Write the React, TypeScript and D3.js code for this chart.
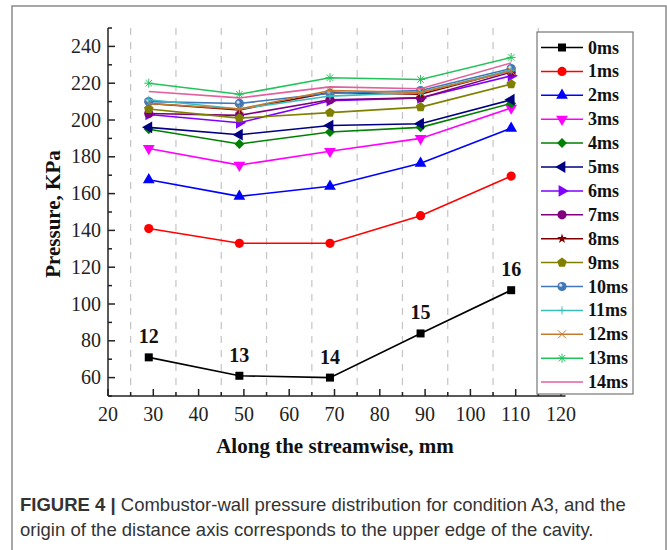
import React from 'react';
import * as d3 from 'd3';

// positions along the wall, mm
const positions = [29, 49, 69, 89, 109];
const pointLabels = ['12', '13', '14', '15', '16'];
const xTicks = [20, 30, 40, 50, 60, 70, 80, 90, 100, 110, 120];
const yTicks = [60, 80, 100, 120, 140, 160, 180, 200, 220, 240];

const seriesNames = ['0ms', '1ms', '2ms', '3ms', '4ms', '5ms', '6ms', '7ms', '8ms', '9ms', '10ms', '11ms', '12ms', '13ms', '14ms'];
const s0 = [71, 61, 60, 84, 107.5];
const s1 = [141, 133, 133, 148, 169.5];
const s2 = [167.5, 158.5, 164, 176.5, 195.5];
const s3 = [184.5, 175.5, 183, 190, 206.5];
const s4 = [195, 187, 193.5, 196, 209];
const s5 = [196, 192, 197, 198, 211];
const s6 = [203, 198.5, 210.5, 212, 224];
const s7 = [203.5, 202.5, 211, 212, 226];
const s8 = [209, 205.5, 215, 214, 227];
const s9 = [206, 201, 204, 207, 219.5];
const s10 = [210, 209, 214.5, 216, 228];
const s11 = [211, 206, 213, 215, 227];
const s12 = [209, 206, 216, 215, 226.5];
const s13 = [220, 214, 223, 222, 234];
const s14 = [215.5, 212, 218, 217, 231];
const seriesValues = [s0, s1, s2, s3, s4, s5, s6, s7, s8, s9, s10, s11, s12, s13, s14];

const colors = ['#000000', '#ff0000', '#0000ff', '#ff00ff', '#008000', '#000080', '#8000ff', '#800080',
  '#800000', '#808000', '#3f77b8', '#3cbcbc', '#c47a2c', '#22c45a', '#e2609e'];
const markers = ['square', 'circle', 'up', 'down', 'diamond', 'left', 'right', 'circle', 'star', 'pentagon',
  'ball', 'plus', 'times', 'asterisk', 'none'];

const W = 667, H = 550;
const serif = '"Liberation Serif", "Times New Roman", serif';
const captionFont = '"Liberation Sans Narrow", "Arial Narrow", "Liberation Sans", sans-serif';

const x = d3.scaleLinear().domain([20, 120]).range([108, 561]);
const y = d3.scaleLinear().domain([50, 250]).range([396, 28]);

const polygon = (n, r, rot = -Math.PI / 2) => {
  const p = d3.path();
  for (let i = 0; i < n; i++) {
    const a = rot + (i * 2 * Math.PI) / n;
    if (i === 0) p.moveTo(r * Math.cos(a), r * Math.sin(a));
    else p.lineTo(r * Math.cos(a), r * Math.sin(a));
  }
  p.closePath();
  return p.toString();
};

const Marker = ({ type, color, cx, cy }) => {
  const t = `translate(${cx},${cy})`;
  const tri = d3.symbol(d3.symbolTriangle, 60)();
  switch (type) {
    case 'square':
      return <rect x={cx - 4} y={cy - 4} width={8} height={8} fill={color} />;
    case 'circle':
      return <circle cx={cx} cy={cy} r={4.6} fill={color} />;
    case 'ball':
      return <g><circle cx={cx} cy={cy} r={4.6} fill={color} /><circle cx={cx - 1.3} cy={cy - 1.3} r={1.6} fill="#cfe0f3" /></g>;
    case 'up':
      return <path d={tri} transform={t} fill={color} />;
    case 'down':
      return <path d={tri} transform={`${t} rotate(180)`} fill={color} />;
    case 'left':
      return <path d={tri} transform={`${t} rotate(-90)`} fill={color} />;
    case 'right':
      return <path d={tri} transform={`${t} rotate(90)`} fill={color} />;
    case 'diamond':
      return <path d={polygon(4, 5)} transform={t} fill={color} />;
    case 'pentagon':
      return <path d={polygon(5, 5)} transform={t} fill={color} />;
    case 'star':
      return <path d={d3.symbol(d3.symbolStar, 30)()} transform={t} fill={color} />;
    case 'plus':
      return <path d="M-4,0H4M0,-4V4" transform={t} stroke={color} strokeWidth={1} />;
    case 'times':
      return <path d="M-4,-4L4,4M-4,4L4,-4" transform={t} stroke={color} strokeWidth={1} fill="none" />;
    case 'asterisk':
      return <path d="M-4.5,0H4.5M0,-4.5V4.5M-3.2,-3.2L3.2,3.2M-3.2,3.2L3.2,-3.2" transform={t} stroke={color} strokeWidth={1} />;
    default:
      return null;
  }
};

const App = () => {
  const line = d3.line<number>()
    .x((_, i) => x(positions[i]))
    .y(d => y(d));

  const minorX = d3.range(25, 120, 10);
  const minorY = d3.range(50, 251, 20);
  const legendTop = 47.5, legendStep = 23.9;

  return (
    <svg width={W} height={H} style={{ position: 'absolute', left: 0, top: 0, background: '#fff' }}>
      {/* outer frame */}
      <rect x={12} y={6} width={654} height={560} fill="none" stroke="#8a8a8a" strokeWidth={1.5} />

      {/* dashed grid */}
      {minorX.map(v => (
        <line key={'g' + v} x1={x(v)} x2={x(v)} y1={y(250)} y2={y(50)} stroke="#c4c4c4" strokeWidth={1.2} strokeDasharray="7,7" />
      ))}

      {/* axes */}
      <line x1={x(20)} x2={x(20)} y1={y(250)} y2={y(50)} stroke="#222" strokeWidth={1.5} />
      <line x1={x(20)} x2={x(121)} y1={y(50)} y2={y(50)} stroke="#222" strokeWidth={1.5} />
      {yTicks.map(v => (
        <g key={'yt' + v}>
          <line x1={x(20)} x2={x(20) + 7} y1={y(v)} y2={y(v)} stroke="#222" strokeWidth={1.5} />
          <text x={x(20) - 7} y={y(v) + 6.5} textAnchor="end" fontFamily={serif} fontSize={20} fill="#222">{v}</text>
        </g>
      ))}
      {minorY.map(v => (
        <line key={'ym' + v} x1={x(20)} x2={x(20) + 4} y1={y(v)} y2={y(v)} stroke="#222" strokeWidth={1.5} />
      ))}
      {xTicks.map(v => (
        <g key={'xt' + v}>
          <line x1={x(v)} x2={x(v)} y1={y(50)} y2={y(50) - 7} stroke="#222" strokeWidth={1.5} />
          <text x={x(v)} y={y(50) + 25} textAnchor="middle" fontFamily={serif} fontSize={20} fill="#222">{v}</text>
        </g>
      ))}
      {minorX.map(v => (
        <line key={'xm' + v} x1={x(v)} x2={x(v)} y1={y(50)} y2={y(50) - 4} stroke="#222" strokeWidth={1.5} />
      ))}

      {/* axis titles */}
      <text x={335} y={453} textAnchor="middle" fontFamily={serif} fontWeight="bold" fontSize={21} fill="#111">Along the streamwise, mm</text>
      <text transform="translate(60,214) rotate(-90)" textAnchor="middle" fontFamily={serif} fontWeight="bold" fontSize={21} fill="#111">Pressure, KPa</text>

      {/* series */}
      {seriesValues.map((vals, si) => (
        <g key={'s' + si}>
          <path d={line(vals)} fill="none" stroke={colors[si]} strokeWidth={1.6} />
          {vals.map((v, i) => (
            <Marker key={i} type={markers[si]} color={colors[si]} cx={x(positions[i])} cy={y(v)} />
          ))}
        </g>
      ))}

      {/* point labels on the 0ms curve */}
      {s0.map((v, i) => (
        <text key={'pl' + i} x={x(positions[i])} y={y(v) - 14} textAnchor="middle" fontFamily={serif} fontWeight="bold" fontSize={20} fill="#111">{pointLabels[i]}</text>
      ))}

      {/* legend */}
      <rect x={537} y={32} width={96} height={362} fill="#fff" stroke="#777" strokeWidth={1.2} />
      {seriesNames.map((name, i) => {
        const ly = legendTop + i * legendStep;
        return (
          <g key={'l' + i}>
            <line x1={541} x2={583} y1={ly} y2={ly} stroke={colors[i]} strokeWidth={1.5} />
            <Marker type={markers[i]} color={colors[i]} cx={562} cy={ly} />
            <text x={588} y={ly + 6} fontFamily={serif} fontWeight="bold" fontSize={18} fill="#111">{name}</text>
          </g>
        );
      })}

      {/* caption */}
      <text x={20} y={511} fontFamily={captionFont} fontSize={18.5} fill="#333">
        <tspan fontWeight="bold">FIGURE 4 |</tspan> Combustor-wall pressure distribution for condition A3, and the
      </text>
      <text x={20} y={536} fontFamily={captionFont} fontSize={18.5} fill="#333">
        origin of the distance axis corresponds to the upper edge of the cavity.
      </text>
    </svg>
  );
};

export default App;
